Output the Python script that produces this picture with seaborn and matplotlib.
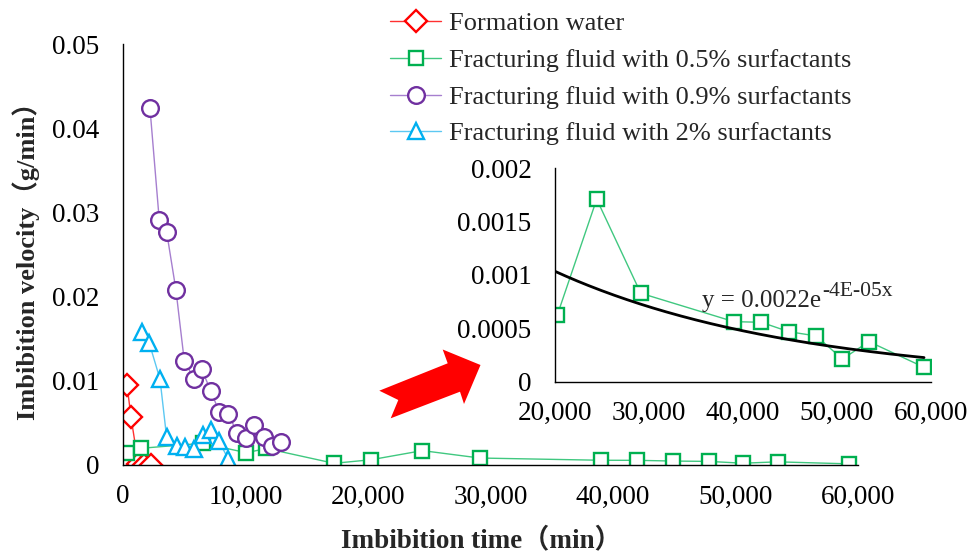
import numpy as np
import pandas as pd
import matplotlib
matplotlib.use("Agg")
import matplotlib.pyplot as plt
import seaborn as sns
from matplotlib.patches import Polygon

# ---------------- data ----------------
fw_x = [330, 650, 1250, 1720, 2250]
fw_y = [0.0095, 0.0057, 0.0001, 0.00005, 0.0]

s05_x = [350, 1440, 6490, 10080, 11710, 17230, 20250, 24440, 29130,
         39050, 41960, 44900, 47820, 50590, 53430, 59290]
s05_y = [0.00139, 0.00198, 0.00258, 0.00146, 0.00196, 0.0002, 0.000625,
         0.001708, 0.000828, 0.000562, 0.000556, 0.000468, 0.000428,
         0.000212, 0.000375, 0.000135]

s09_x = [2200, 2960, 3560, 4320, 5000, 5810, 6410, 7170, 7850, 8590,
         9320, 10080, 10700, 11520, 12200, 12930]
s09_y = [0.0424, 0.0291, 0.0277, 0.0208, 0.0124, 0.0102, 0.0114, 0.0088,
         0.0063, 0.0061, 0.0038, 0.0032, 0.0048, 0.0033, 0.0023, 0.0027]

s2_x = [1570, 2140, 3020, 3560, 4370, 5050, 5810, 6490, 7170, 7850, 8590]
s2_y = [0.0158, 0.0145, 0.0102, 0.0033, 0.0023, 0.0021, 0.0019, 0.0036,
        0.0041, 0.0028, 0.0007]

labels = ["Formation water",
          "Fracturing fluid with 0.5% surfactants",
          "Fracturing fluid with 0.9% surfactants",
          "Fracturing fluid with 2% surfactants"]

main_xticks = [0, 10000, 20000, 30000, 40000, 50000, 60000]
main_yticks = [0, 0.01, 0.02, 0.03, 0.04, 0.05]
inset_xticks = [20000, 30000, 40000, 50000, 60000]
inset_yticks = [0, 0.0005, 0.001, 0.0015, 0.002]

# exponential trendline of the inset series (as drawn in the picture)
trend_a = 0.00224
trend_b = -3.87e-5
eq_main = "y = 0.0022e"
eq_sup = "-4E-05x"

# ---------------- style ----------------
sns.set_theme(style="white")
plt.rcParams["font.family"] = ["Liberation Serif", "Noto Sans CJK SC"]

W, H = 967, 555
fig = plt.figure(figsize=(W / 100, H / 100), dpi=100)

def fx(px):
    return px / W

def fy(py):
    return 1 - py / H

ax = fig.add_axes([fx(123), fy(465), fx(858) - fx(123), fy(44) - fy(465)])

series = [
    (fw_x, fw_y, "D", "#FF0000", "#FF3030", 11),
    (s05_x, s05_y, "s", "#00B050", "#40C880", 10),
    (s09_x, s09_y, "o", "#7030A0", "#A67FCF", 12),
    (s2_x, s2_y, "^", "#00B0F0", "#5CC8F2", 11),
]

handles = []
for (xs, ys, mk, mc, lc, ms), lab in zip(series, labels):
    df = pd.DataFrame({"x": xs, "y": ys})
    sns.lineplot(data=df, x="x", y="y", ax=ax, sort=False, estimator=None,
                 color=lc, linewidth=1.0, marker=mk, markersize=ms,
                 markerfacecolor="white", markeredgecolor=mc,
                 markeredgewidth=1.7, label=lab, legend=False)
    handles.append(ax.lines[-1])

ax.set_xlim(0, 60000)
ax.set_ylim(0, 0.05)
ax.set_xticks(main_xticks)
ax.set_xticklabels([f"{v:,}" for v in main_xticks])
ax.set_yticks(main_yticks)
ax.set_yticklabels(["0", "0.01", "0.02", "0.03", "0.04", "0.05"])
for s in ["top", "right"]:
    ax.spines[s].set_visible(False)
for s in ["left", "bottom"]:
    ax.spines[s].set_color("black")
    ax.spines[s].set_linewidth(1.0)
ax.tick_params(axis="both", direction="in", length=5, width=1,
               color="#888888", labelsize=19.5, labelcolor="black")
ax.tick_params(axis="y", pad=17)
ax.tick_params(axis="x", pad=14)
ax.set_xlabel("Imbibition time（min）", fontsize=19.5, fontweight="bold",
              labelpad=13)
ax.xaxis.label.set_x(0.488)
ax.set_ylabel("Imbibition velocity（g/min）", fontsize=19,
              fontweight="bold", labelpad=9)

# legend
fig.legend(handles, labels, loc="upper left",
           bbox_to_anchor=(fx(390), fy(12)), frameon=False, fontsize=19,
           borderpad=0, borderaxespad=0, handlelength=1.95,
           handletextpad=0.3, labelspacing=0.5)

# ---------------- inset ----------------
ins = fig.add_axes([fx(555), fy(381.7), fx(930.7) - fx(555),
                    fy(168) - fy(381.7)])
mask = [x >= 20000 for x in s05_x]
dfi = pd.DataFrame({"x": [x for x, m in zip(s05_x, mask) if m],
                    "y": [y for y, m in zip(s05_y, mask) if m]})
sns.lineplot(data=dfi, x="x", y="y", ax=ins, sort=False, estimator=None,
             color="#40C880", linewidth=1.0, marker="s", markersize=10,
             markerfacecolor="white", markeredgecolor="#00B050",
             markeredgewidth=1.7, legend=False)

xf = np.linspace(20000, dfi["x"].max(), 200)
ins.plot(xf, trend_a * np.exp(trend_b * xf), color="black", linewidth=2.0)

ins.set_xlim(20000, 60000)
ins.set_ylim(0, 0.002)
ins.set_xticks(inset_xticks)
ins.set_xticklabels([f"{v:,}" for v in inset_xticks])
ins.set_yticks(inset_yticks)
ins.set_yticklabels(["0", "0.0005", "0.001", "0.0015", "0.002"])
ins.set_xlabel("")
ins.set_ylabel("")
ins.set_facecolor("none")
for s in ["top", "right"]:
    ins.spines[s].set_visible(False)
for s in ["left", "bottom"]:
    ins.spines[s].set_color("black")
    ins.spines[s].set_linewidth(1.0)
ins.tick_params(axis="both", direction="in", length=5, width=1,
                color="#888888", labelsize=19.5, labelcolor="black")
ins.tick_params(axis="y", pad=17)
ins.tick_params(axis="x", pad=14)
t1 = ins.text(35650, 0.0007, eq_main, fontsize=18, va="baseline",
              ha="left")
ins.annotate(eq_sup, xy=(1, 0), xycoords=t1, xytext=(0.5, 8),
             textcoords="offset points", fontsize=15.5, va="bottom",
             ha="left")

# red block arrow (decoration)
pts = [(379.3, 390.7), (447.7, 363.3), (442.7, 349.5), (480.5, 365),
       (464, 404), (460, 391.7), (390.7, 418.3), (398.3, 400)]
fig.patches.append(Polygon([(fx(a), fy(c)) for a, c in pts], closed=True,
                           transform=fig.transFigure, facecolor="#FF0000",
                           edgecolor="none"))

fig.savefig("out.png", dpi=100)
